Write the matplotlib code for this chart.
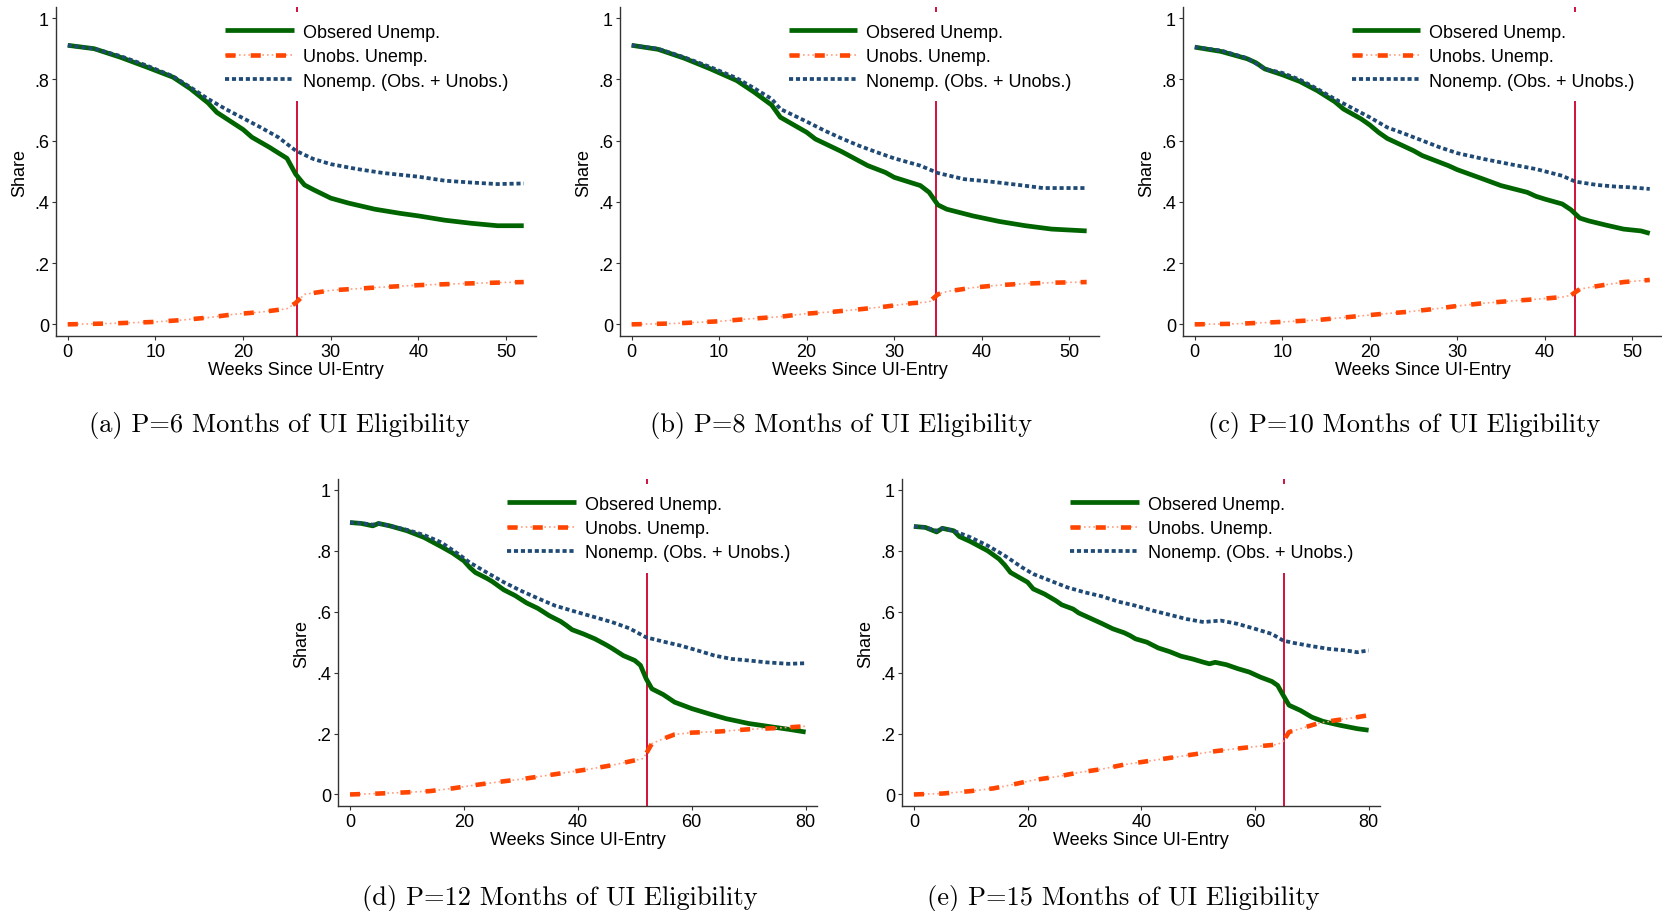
import matplotlib.pyplot as plt
from matplotlib.legend_handler import HandlerTuple

plt.rcParams['font.family'] = ['Liberation Sans', 'DejaVu Sans']

# (a) P=6
obs_wk_a = [0, 3, 6, 9, 12, 14, 16, 17, 20, 21, 23, 25, 26, 27, 28, 30, 32, 35, 38, 40, 43, 46, 49, 52]
obs_a = [.911, .90, .872, .84, .807, .769, .723, .692, .636, .611, .578, .542, .49, .455, .44, .412,
         .396, .376, .362, .354, .34, .33, .322, .322]
non_wk_a = [0, 3, 6, 9, 12, 14, 16, 18, 20, 22, 24, 26, 28, 30, 33, 36, 40, 43, 46, 49, 52]
non_a = [.911, .90, .876, .845, .81, .774, .736, .703, .673, .643, .611, .567, .54, .523, .507, .494,
         .482, .469, .463, .458, .46]
uno_wk_a = [0, 5, 10, 13, 16, 19, 22, 25, 26, 27, 30, 35, 40, 45, 50, 52]
uno_a = [0, .003, .008, .014, .022, .033, .04, .051, .07, .098, .111, .12, .128, .133, .137, .138]

# (b) P=8
obs_wk_b = [0, 3, 6, 9, 12, 14, 16, 17, 20, 21, 24, 27, 29, 30, 33, 34, 35, 36, 39, 42, 45, 48, 50, 52]
obs_b = [.911, .898, .869, .834, .796, .758, .716, .676, .627, .605, .564, .518, .496, .48, .453,
         .431, .39, .376, .354, .336, .322, .311, .308, .305]
non_wk_b = [0, 3, 6, 9, 12, 14, 16, 17, 20, 22, 24, 26, 28, 30, 33, 35, 38, 41, 44, 47, 50, 52]
non_b = [.911, .90, .872, .84, .804, .771, .736, .703, .662, .633, .607, .583, .562, .542, .518,
         .494, .474, .466, .456, .445, .445, .445]
uno_wk_b = [0, 5, 10, 14, 17, 20, 23, 26, 29, 32, 34, 35, 36, 39, 42, 45, 48, 52]
uno_b = [0, .003, .01, .019, .025, .035, .041, .049, .058, .069, .073, .098, .107, .12, .128, .133,
         .136, .138]

# (c) P=10
obs_wk_c = [0, 3, 6, 7, 8, 10, 12, 14, 16, 17, 19, 20, 21, 22, 25, 26, 29, 30, 33, 35, 38, 39, 40,
            42, 43, 44, 45, 47, 49, 51, 52]
obs_c = [.905, .891, .867, .854, .834, .815, .793, .763, .727, .703, .671, .651, .627, .607, .567,
         .551, .518, .505, .474, .453, .431, .418, .409, .393, .374, .347, .338, .324, .311, .305, .297]
non_wk_c = [0, 3, 6, 8, 10, 12, 14, 16, 18, 20, 22, 24, 26, 28, 30, 33, 36, 39, 42, 43.5, 46, 48, 50, 52]
non_c = [.905, .894, .869, .834, .821, .799, .769, .736, .706, .676, .643, .622, .60, .578, .559,
         .54, .523, .507, .485, .466, .455, .45, .447, .442]
uno_wk_c = [0, 5, 10, 14, 18, 21, 24, 27, 30, 33, 36, 39, 42, 43, 44, 46, 49, 52]
uno_c = [0, .002, .008, .014, .025, .033, .04, .049, .06, .069, .076, .082, .089, .095, .115, .125,
         .138, .145]

# (d) P=12
obs_wk_d = [0, 2, 4, 5, 7, 10, 13, 16, 18, 20, 21, 22, 24, 25, 27, 29, 31, 33, 35, 37, 38, 39, 41,
            43, 45, 46, 48, 50, 51, 52, 53, 55, 57, 60, 63, 66, 70, 74, 77, 80]
obs_d = [.893, .89, .882, .89, .882, .866, .844, .814, .793, .767, .746, .729, .71, .699, .672, .653,
         .629, .611, .587, .568, .555, .541, .527, .511, .491, .48, .456, .44, .424, .38, .347, .328,
         .303, .282, .265, .249, .233, .222, .214, .205]
non_wk_d = [0, 2, 4, 5, 7, 10, 13, 16, 19, 21, 24, 27, 30, 33, 36, 40, 43, 46, 49, 52, 55, 58, 61,
            64, 67, 70, 73, 77, 80]
non_d = [.893, .891, .886, .89, .882, .869, .852, .828, .79, .762, .729, .697, .669, .644, .62, .598,
         .582, .566, .546, .516, .502, .489, .473, .456, .445, .44, .434, .429, .431]
uno_wk_d = [0, 5, 10, 14, 18, 22, 26, 30, 34, 38, 42, 46, 50, 51.5, 53, 55, 57, 60, 65, 70, 75, 80]
uno_d = [0, .003, .007, .011, .02, .031, .041, .05, .061, .072, .083, .096, .112, .118, .167, .183,
         .197, .203, .207, .214, .218, .224]

# (e) P=15
obs_wk_e = [0, 2, 4, 5, 7, 8, 10, 13, 15, 16, 17, 20, 21, 23, 25, 26, 28, 29, 31, 33, 35, 37, 38,
            39, 41, 43, 45, 47, 49, 51, 52, 53, 55, 57, 59, 61, 63, 64, 65, 66, 68, 70, 72, 75, 78, 80]
obs_e = [.88, .877, .862, .874, .866, .847, .83, .80, .773, .753, .729, .697, .675, .658, .636, .623,
         .609, .596, .579, .562, .544, .531, .522, .511, .50, .481, .469, .454, .445, .434, .429,
         .434, .426, .413, .402, .385, .371, .358, .325, .293, .276, .254, .24, .227, .216, .211]
non_wk_e = [0, 2, 4, 5, 7, 10, 13, 16, 19, 21, 24, 27, 30, 33, 36, 39, 42, 45, 48, 51, 52, 54, 57,
            60, 63, 65, 67, 70, 73, 76, 78, 80]
non_e = [.88, .877, .866, .874, .866, .844, .817, .784, .746, .724, .702, .68, .664, .651, .633, .62,
         .604, .59, .576, .566, .568, .571, .56, .544, .527, .505, .497, .487, .478, .473, .467, .473]
uno_wk_e = [0, 5, 10, 14, 17, 21, 25, 29, 33, 37, 41, 45, 49, 53, 57, 61, 64, 65, 66, 68, 71, 74, 77, 80]
uno_e = [0, .003, .011, .02, .031, .047, .058, .072, .083, .098, .109, .12, .131, .142, .151, .159,
         .164, .175, .205, .216, .233, .243, .251, .26]

benefit_end = [26.1, 34.8, 43.5, 52.2, 65.2]
captions = ["(a) P=6 Months of UI Eligibility", "(b) P=8 Months of UI Eligibility",
            "(c) P=10 Months of UI Eligibility", "(d) P=12 Months of UI Eligibility",
            "(e) P=15 Months of UI Eligibility"]
x_max = [52, 52, 52, 80, 80]

panels = [
    (obs_wk_a, obs_a, uno_wk_a, uno_a, non_wk_a, non_a),
    (obs_wk_b, obs_b, uno_wk_b, uno_b, non_wk_b, non_b),
    (obs_wk_c, obs_c, uno_wk_c, uno_c, non_wk_c, non_c),
    (obs_wk_d, obs_d, uno_wk_d, uno_d, non_wk_d, non_d),
    (obs_wk_e, obs_e, uno_wk_e, uno_e, non_wk_e, non_e),
]

# axes rectangles in figure fractions
rects = [
    [0.0337, 0.6305, 0.2888, 0.3607],
    [0.3730, 0.6305, 0.2882, 0.3607],
    [0.7118, 0.6305, 0.2882, 0.3607],
    [0.2034, 0.1151, 0.2882, 0.3586],
    [0.5427, 0.1151, 0.2876, 0.3586],
]
cap_pos = [(0.168, 0.533), (0.506, 0.533), (0.845, 0.533), (0.337, 0.015), (0.676, 0.015)]

green = '#006400'
orange = '#FF4500'
light_orange = '#FF9E80'
navy = '#1F4A75'
red = '#D0103A'

fig = plt.figure(figsize=(16.62, 9.12), dpi=100)

for i, (ow, ov, uw, uv, nw, nv) in enumerate(panels):
    ax = fig.add_axes(rects[i])
    xm = x_max[i]
    if xm == 52:
        ax.set_xlim(-1.34, 53.4)
    else:
        ax.set_xlim(-2.1, 82.0)
    ax.axvline(benefit_end[i], color=red, lw=1.4, zorder=1)
    g, = ax.plot(ow, ov, color=green, lw=3.4, solid_capstyle='butt', zorder=3)
    u_thin, = ax.plot(uw, uv, color=light_orange, lw=1.2, ls=(0, (1, 1.8)), zorder=3)
    u_thick, = ax.plot(uw, uv, color=orange, lw=3.3, ls=(0, (2.2, 3.3)), zorder=3)
    n, = ax.plot(nw, nv, color=navy, lw=2.7, ls=(0, (1.1, 0.75)), zorder=3)

    ax.set_ylim(-0.038, 1.036)
    ax.set_yticks([0, .2, .4, .6, .8, 1])
    ax.set_yticklabels(['0', '.2', '.4', '.6', '.8', '1'])
    ax.set_xticks(range(0, xm + 1, 10 if xm == 52 else 20))
    for s in ['top', 'right']:
        ax.spines[s].set_visible(False)
    for s in ['left', 'bottom']:
        ax.spines[s].set_color('#333333')
        ax.spines[s].set_linewidth(1.0)
    ax.tick_params(labelsize=13, length=3, width=0.8, color='#333333', pad=2)
    ax.set_xlabel('Weeks Since UI-Entry', fontsize=13, labelpad=1)
    ax.set_ylabel('Share', fontsize=13, labelpad=4)

    leg = ax.legend([g, (u_thin, u_thick), n],
                    ['Obsered Unemp.', 'Unobs. Unemp.', 'Nonemp. (Obs. + Unobs.)'],
                    handler_map={tuple: HandlerTuple(ndivide=1, pad=0)},
                    loc='upper left', bbox_to_anchor=(0.328, 0.985), borderaxespad=0,
                    fontsize=13, handlelength=3.8, handletextpad=0.5, labelspacing=0.41,
                    borderpad=0.65, frameon=True, framealpha=1, edgecolor='none', fancybox=False)
    leg.set_zorder(5)

    fig.text(cap_pos[i][0], cap_pos[i][1], captions[i], fontfamily='cmr10', fontsize=19,
             ha='center', va='center')

fig.savefig('out.png', dpi=100, facecolor='white')
